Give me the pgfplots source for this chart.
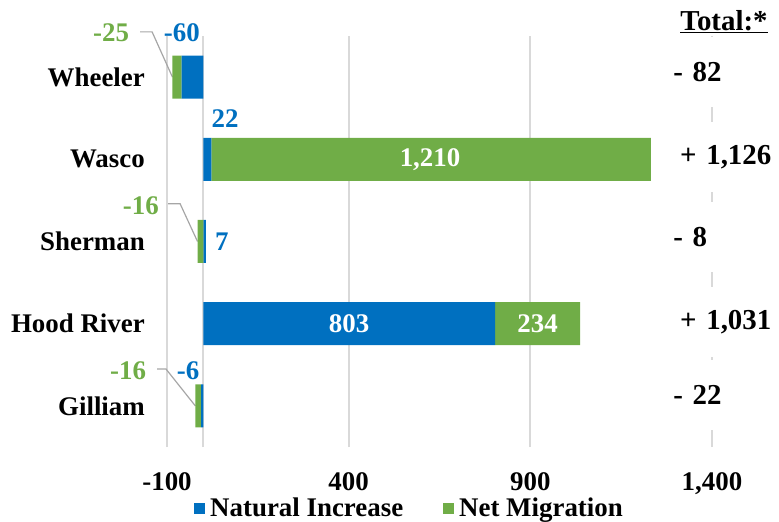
\documentclass[border=0pt]{standalone}
\usepackage{fontspec}
\setmainfont{Liberation Serif}
\usepackage{pgfplots}
\pgfplotsset{compat=1.18}

\definecolor{ni}{HTML}{0070C0}
\definecolor{nm}{HTML}{70AD47}
\definecolor{gridc}{HTML}{D9D9D9}
\definecolor{lead}{HTML}{A6A6A6}
\newcommand\lab{\fontsize{27}{30}\selectfont\bfseries}
\newcommand\totf{\fontsize{29}{32}\selectfont\bfseries}

% shared geometry, so the two overlaid axes map identically
\pgfplotsset{base/.style={
  scale only axis, width=545bp, height=411bp,
  xmin=-100, xmax=1400, ymin=-0.5, ymax=4.5,
  xbar stacked, bar width=43bp,
  at={(167bp,75bp)}, anchor=south west,
  clip=false,
},
sq/.style={legend image code/.code={\fill[##1] (0bp,-6bp) rectangle (11bp,5bp);}}}

\begin{document}
\begin{tikzpicture}
\useasboundingbox (0,0) rectangle (779bp,522bp);

% positive parts
\begin{axis}[base,
  axis line style={draw=none},
  xtick={-100,400,900,1400}, xticklabels={-100,400,900,{1,400}},
  ytick={0,1,2,3,4}, yticklabels={Gilliam,Hood River,Sherman,Wasco,Wheeler},
  major tick length=0pt,
  xmajorgrids, major grid style={gridc, line width=2bp},
  extra x ticks={0}, extra x tick labels={}, extra x tick style={grid=major},
  ticklabel style={font=\lab, inner sep=0pt},
  xticklabel style={anchor=base, yshift=-43bp},
  yticklabel style={anchor=east, xshift=-22bp},
  legend style={at={(0.445,-0.148)}, anchor=center, draw=none, fill=none,
    legend columns=2, font=\lab,
    /tikz/every odd column/.append style={column sep=3bp},
    /tikz/every even column/.append style={column sep=38bp}},
]
\addplot[fill=ni, draw=none, sq] coordinates {(0,0) (803,1) (7,2) (22,3) (0,4)};
\addplot[fill=nm, draw=none, sq] coordinates {(0,0) (234,1) (0,2) (1210,3) (0,4)};
\addlegendentry{Natural Increase}
\addlegendentry{Net Migration}

% totals column, boxes hide the 1,400 grid line
\node[font=\totf] at (axis cs:1433,4.67) {\underline{Total:*}};
\tikzset{tot/.style={font=\totf, fill=white, anchor=west, minimum height=70bp,
  text width=100bp, inner sep=0pt, align=left}}
\node[tot] at (axis cs:1293,4.06) {- 82};
\node[tot] at (axis cs:1312,3.03) {+ 1,126};
\node[tot] at (axis cs:1293,2.05) {- 8};
\node[tot] at (axis cs:1312,1.02) {+ 1,031};
\node[tot] at (axis cs:1293,0.13) {- 22};
\end{axis}

% negative parts
\begin{axis}[base, hide axis]
\addplot[fill=ni, draw=none] coordinates {(-6,0) (0,1) (0,2) (0,3) (-60,4)};
\addplot[fill=nm, draw=none] coordinates {(-16,0) (0,1) (-16,2) (0,3) (-25,4)};

% leader lines
\draw[lead, line width=1.2bp] (axis cs:-174,4.55) -- (axis cs:-141,4.55) -- (axis cs:-85,4.0);
\draw[lead, line width=1.2bp] (axis cs:-97,2.46) -- (axis cs:-64,2.46) -- (axis cs:-16,2.0);
\draw[lead, line width=1.2bp] (axis cs:-127,0.45) -- (axis cs:-103,0.45) -- (axis cs:-22,0.0);

% data labels
\node[font=\lab, text=ni] at (axis cs:-59,4.54) {-60};
\node[font=\lab, text=nm] at (axis cs:-254,4.54) {-25};
\node[font=\lab, text=ni] at (axis cs:60,3.5) {22};
\node[font=\lab, text=white] at (axis cs:624,3) {1,210};
\node[font=\lab, text=nm] at (axis cs:-172,2.43) {-16};
\node[font=\lab, text=ni] at (axis cs:51,2.0) {7};
\node[font=\lab, text=white] at (axis cs:401,1) {803};
\node[font=\lab, text=white] at (axis cs:920,1) {234};
\node[font=\lab, text=nm] at (axis cs:-207,0.425) {-16};
\node[font=\lab, text=ni] at (axis cs:-42,0.425) {-6};
\end{axis}
\end{tikzpicture}
\end{document}
